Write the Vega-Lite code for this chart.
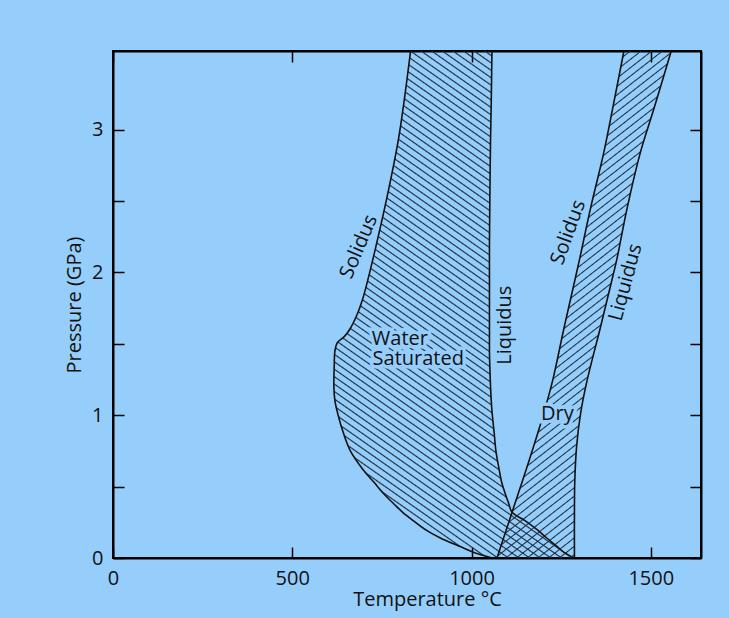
{
"$schema": "https://vega.github.io/schema/vega-lite/v6.json",
"width": 588, "height": 507,
"autosize": {"type": "none"},
"padding": {"left": 113, "top": 51, "right": 28, "bottom": 60},
"background": "#96cefb",
"config": {
 "view": {"stroke": "#000", "strokeWidth": 2},
 "font": "Open Sans",
 "axis": {"domainColor": "#000", "domainWidth": 2, "tickColor": "#000", "tickWidth": 1.5, "tickSize": -11, "labelPadding": 21, "labelFont": "Open Sans", "labelFontSize": 20, "labelColor": "#111", "titleFont": "Open Sans", "titleFontSize": 20, "titleFontWeight": "normal", "titleColor": "#111", "grid": false, "labelFlush": false, "zindex": 1}
},
"datasets": {
 "water": [
  {"P": 0, "solidus": 1058, "liquidus": 1287},
  {"P": 0.04, "solidus": 1005, "liquidus": 1258},
  {"P": 0.08, "solidus": 968, "liquidus": 1239},
  {"P": 0.14, "solidus": 913, "liquidus": 1210},
  {"P": 0.2, "solidus": 870, "liquidus": 1182},
  {"P": 0.26, "solidus": 838, "liquidus": 1150},
  {"P": 0.32, "solidus": 808, "liquidus": 1113},
  {"P": 0.38, "solidus": 783, "liquidus": 1104},
  {"P": 0.45, "solidus": 755, "liquidus": 1094},
  {"P": 0.53, "solidus": 728, "liquidus": 1084},
  {"P": 0.62, "solidus": 697, "liquidus": 1077},
  {"P": 0.75, "solidus": 662, "liquidus": 1068},
  {"P": 0.88, "solidus": 642, "liquidus": 1063},
  {"P": 1.0, "solidus": 628, "liquidus": 1058},
  {"P": 1.1, "solidus": 619, "liquidus": 1055},
  {"P": 1.2, "solidus": 616, "liquidus": 1053},
  {"P": 1.34, "solidus": 617, "liquidus": 1051},
  {"P": 1.45, "solidus": 619, "liquidus": 1050},
  {"P": 1.51, "solidus": 626, "liquidus": 1050},
  {"P": 1.55, "solidus": 645, "liquidus": 1050},
  {"P": 1.6, "solidus": 660, "liquidus": 1050},
  {"P": 1.7, "solidus": 680, "liquidus": 1050},
  {"P": 1.81, "solidus": 696, "liquidus": 1050},
  {"P": 2.0, "solidus": 716, "liquidus": 1050},
  {"P": 2.2, "solidus": 735, "liquidus": 1050},
  {"P": 2.5, "solidus": 762, "liquidus": 1051},
  {"P": 2.93, "solidus": 796, "liquidus": 1053},
  {"P": 3.2, "solidus": 812, "liquidus": 1055},
  {"P": 3.55, "solidus": 830, "liquidus": 1057}
 ],
 "dry": [
  {"P": 0, "solidus": 1071, "liquidus": 1287},
  {"P": 0.32, "solidus": 1113, "liquidus": 1287},
  {"P": 0.54, "solidus": 1142, "liquidus": 1288},
  {"P": 0.78, "solidus": 1173, "liquidus": 1293},
  {"P": 1.01, "solidus": 1201, "liquidus": 1304},
  {"P": 1.24, "solidus": 1226, "liquidus": 1322},
  {"P": 1.6, "solidus": 1257, "liquidus": 1358},
  {"P": 1.91, "solidus": 1285, "liquidus": 1388},
  {"P": 2.1, "solidus": 1302, "liquidus": 1406},
  {"P": 2.45, "solidus": 1332, "liquidus": 1434},
  {"P": 2.84, "solidus": 1369, "liquidus": 1471},
  {"P": 3.14, "solidus": 1393, "liquidus": 1508},
  {"P": 3.55, "solidus": 1425, "liquidus": 1557}
 ],
 "flatlabels": [
  {"label": "Water", "T": 722, "P": 1.534},
  {"label": "Saturated", "T": 724, "P": 1.39},
  {"label": "Dry", "T": 1194, "P": 1.008}
 ]
},
"layer": [
 {
  "data": {"name": "water"},
  "mark": {"type": "area", "orient": "horizontal", "clip": true, "opacity": 1, "interpolate": "catmull-rom",
   "fill": {"gradient": "linear", "x1": 1, "y1": 0, "x2": 0.6013, "y2": 1.1998, "stops": [
{"offset":0.003,"color":"rgba(27,42,58,0)"},{"offset":0.005,"color":"#1b2a3a"},{"offset":0.007,"color":"rgba(27,42,58,0)"},
{"offset":0.014,"color":"rgba(27,42,58,0)"},{"offset":0.016,"color":"#1b2a3a"},{"offset":0.018,"color":"rgba(27,42,58,0)"},
{"offset":0.025,"color":"rgba(27,42,58,0)"},{"offset":0.027,"color":"#1b2a3a"},{"offset":0.029,"color":"rgba(27,42,58,0)"},
{"offset":0.036,"color":"rgba(27,42,58,0)"},{"offset":0.038,"color":"#1b2a3a"},{"offset":0.040,"color":"rgba(27,42,58,0)"},
{"offset":0.047,"color":"rgba(27,42,58,0)"},{"offset":0.049,"color":"#1b2a3a"},{"offset":0.051,"color":"rgba(27,42,58,0)"},
{"offset":0.058,"color":"rgba(27,42,58,0)"},{"offset":0.060,"color":"#1b2a3a"},{"offset":0.062,"color":"rgba(27,42,58,0)"},
{"offset":0.069,"color":"rgba(27,42,58,0)"},{"offset":0.071,"color":"#1b2a3a"},{"offset":0.073,"color":"rgba(27,42,58,0)"},
{"offset":0.080,"color":"rgba(27,42,58,0)"},{"offset":0.082,"color":"#1b2a3a"},{"offset":0.084,"color":"rgba(27,42,58,0)"},
{"offset":0.091,"color":"rgba(27,42,58,0)"},{"offset":0.093,"color":"#1b2a3a"},{"offset":0.095,"color":"rgba(27,42,58,0)"},
{"offset":0.102,"color":"rgba(27,42,58,0)"},{"offset":0.104,"color":"#1b2a3a"},{"offset":0.106,"color":"rgba(27,42,58,0)"},
{"offset":0.113,"color":"rgba(27,42,58,0)"},{"offset":0.115,"color":"#1b2a3a"},{"offset":0.117,"color":"rgba(27,42,58,0)"},
{"offset":0.124,"color":"rgba(27,42,58,0)"},{"offset":0.126,"color":"#1b2a3a"},{"offset":0.128,"color":"rgba(27,42,58,0)"},
{"offset":0.135,"color":"rgba(27,42,58,0)"},{"offset":0.137,"color":"#1b2a3a"},{"offset":0.139,"color":"rgba(27,42,58,0)"},
{"offset":0.146,"color":"rgba(27,42,58,0)"},{"offset":0.148,"color":"#1b2a3a"},{"offset":0.150,"color":"rgba(27,42,58,0)"},
{"offset":0.157,"color":"rgba(27,42,58,0)"},{"offset":0.159,"color":"#1b2a3a"},{"offset":0.161,"color":"rgba(27,42,58,0)"},
{"offset":0.168,"color":"rgba(27,42,58,0)"},{"offset":0.170,"color":"#1b2a3a"},{"offset":0.172,"color":"rgba(27,42,58,0)"},
{"offset":0.179,"color":"rgba(27,42,58,0)"},{"offset":0.181,"color":"#1b2a3a"},{"offset":0.183,"color":"rgba(27,42,58,0)"},
{"offset":0.190,"color":"rgba(27,42,58,0)"},{"offset":0.192,"color":"#1b2a3a"},{"offset":0.194,"color":"rgba(27,42,58,0)"},
{"offset":0.201,"color":"rgba(27,42,58,0)"},{"offset":0.203,"color":"#1b2a3a"},{"offset":0.205,"color":"rgba(27,42,58,0)"},
{"offset":0.212,"color":"rgba(27,42,58,0)"},{"offset":0.214,"color":"#1b2a3a"},{"offset":0.216,"color":"rgba(27,42,58,0)"},
{"offset":0.223,"color":"rgba(27,42,58,0)"},{"offset":0.225,"color":"#1b2a3a"},{"offset":0.227,"color":"rgba(27,42,58,0)"},
{"offset":0.234,"color":"rgba(27,42,58,0)"},{"offset":0.236,"color":"#1b2a3a"},{"offset":0.238,"color":"rgba(27,42,58,0)"},
{"offset":0.245,"color":"rgba(27,42,58,0)"},{"offset":0.247,"color":"#1b2a3a"},{"offset":0.249,"color":"rgba(27,42,58,0)"},
{"offset":0.256,"color":"rgba(27,42,58,0)"},{"offset":0.258,"color":"#1b2a3a"},{"offset":0.260,"color":"rgba(27,42,58,0)"},
{"offset":0.267,"color":"rgba(27,42,58,0)"},{"offset":0.269,"color":"#1b2a3a"},{"offset":0.271,"color":"rgba(27,42,58,0)"},
{"offset":0.278,"color":"rgba(27,42,58,0)"},{"offset":0.280,"color":"#1b2a3a"},{"offset":0.282,"color":"rgba(27,42,58,0)"},
{"offset":0.289,"color":"rgba(27,42,58,0)"},{"offset":0.291,"color":"#1b2a3a"},{"offset":0.293,"color":"rgba(27,42,58,0)"},
{"offset":0.300,"color":"rgba(27,42,58,0)"},{"offset":0.302,"color":"#1b2a3a"},{"offset":0.304,"color":"rgba(27,42,58,0)"},
{"offset":0.311,"color":"rgba(27,42,58,0)"},{"offset":0.313,"color":"#1b2a3a"},{"offset":0.315,"color":"rgba(27,42,58,0)"},
{"offset":0.322,"color":"rgba(27,42,58,0)"},{"offset":0.324,"color":"#1b2a3a"},{"offset":0.326,"color":"rgba(27,42,58,0)"},
{"offset":0.333,"color":"rgba(27,42,58,0)"},{"offset":0.335,"color":"#1b2a3a"},{"offset":0.337,"color":"rgba(27,42,58,0)"},
{"offset":0.344,"color":"rgba(27,42,58,0)"},{"offset":0.346,"color":"#1b2a3a"},{"offset":0.348,"color":"rgba(27,42,58,0)"},
{"offset":0.355,"color":"rgba(27,42,58,0)"},{"offset":0.357,"color":"#1b2a3a"},{"offset":0.359,"color":"rgba(27,42,58,0)"},
{"offset":0.366,"color":"rgba(27,42,58,0)"},{"offset":0.368,"color":"#1b2a3a"},{"offset":0.370,"color":"rgba(27,42,58,0)"},
{"offset":0.377,"color":"rgba(27,42,58,0)"},{"offset":0.379,"color":"#1b2a3a"},{"offset":0.381,"color":"rgba(27,42,58,0)"},
{"offset":0.388,"color":"rgba(27,42,58,0)"},{"offset":0.390,"color":"#1b2a3a"},{"offset":0.392,"color":"rgba(27,42,58,0)"},
{"offset":0.399,"color":"rgba(27,42,58,0)"},{"offset":0.401,"color":"#1b2a3a"},{"offset":0.403,"color":"rgba(27,42,58,0)"},
{"offset":0.410,"color":"rgba(27,42,58,0)"},{"offset":0.412,"color":"#1b2a3a"},{"offset":0.414,"color":"rgba(27,42,58,0)"},
{"offset":0.421,"color":"rgba(27,42,58,0)"},{"offset":0.423,"color":"#1b2a3a"},{"offset":0.425,"color":"rgba(27,42,58,0)"},
{"offset":0.432,"color":"rgba(27,42,58,0)"},{"offset":0.434,"color":"#1b2a3a"},{"offset":0.436,"color":"rgba(27,42,58,0)"},
{"offset":0.443,"color":"rgba(27,42,58,0)"},{"offset":0.445,"color":"#1b2a3a"},{"offset":0.447,"color":"rgba(27,42,58,0)"},
{"offset":0.454,"color":"rgba(27,42,58,0)"},{"offset":0.456,"color":"#1b2a3a"},{"offset":0.458,"color":"rgba(27,42,58,0)"},
{"offset":0.465,"color":"rgba(27,42,58,0)"},{"offset":0.467,"color":"#1b2a3a"},{"offset":0.469,"color":"rgba(27,42,58,0)"},
{"offset":0.476,"color":"rgba(27,42,58,0)"},{"offset":0.478,"color":"#1b2a3a"},{"offset":0.480,"color":"rgba(27,42,58,0)"},
{"offset":0.487,"color":"rgba(27,42,58,0)"},{"offset":0.489,"color":"#1b2a3a"},{"offset":0.491,"color":"rgba(27,42,58,0)"},
{"offset":0.498,"color":"rgba(27,42,58,0)"},{"offset":0.500,"color":"#1b2a3a"},{"offset":0.502,"color":"rgba(27,42,58,0)"},
{"offset":0.509,"color":"rgba(27,42,58,0)"},{"offset":0.511,"color":"#1b2a3a"},{"offset":0.513,"color":"rgba(27,42,58,0)"},
{"offset":0.520,"color":"rgba(27,42,58,0)"},{"offset":0.522,"color":"#1b2a3a"},{"offset":0.524,"color":"rgba(27,42,58,0)"},
{"offset":0.531,"color":"rgba(27,42,58,0)"},{"offset":0.533,"color":"#1b2a3a"},{"offset":0.535,"color":"rgba(27,42,58,0)"},
{"offset":0.542,"color":"rgba(27,42,58,0)"},{"offset":0.544,"color":"#1b2a3a"},{"offset":0.546,"color":"rgba(27,42,58,0)"},
{"offset":0.553,"color":"rgba(27,42,58,0)"},{"offset":0.555,"color":"#1b2a3a"},{"offset":0.557,"color":"rgba(27,42,58,0)"},
{"offset":0.564,"color":"rgba(27,42,58,0)"},{"offset":0.566,"color":"#1b2a3a"},{"offset":0.568,"color":"rgba(27,42,58,0)"},
{"offset":0.575,"color":"rgba(27,42,58,0)"},{"offset":0.577,"color":"#1b2a3a"},{"offset":0.579,"color":"rgba(27,42,58,0)"},
{"offset":0.586,"color":"rgba(27,42,58,0)"},{"offset":0.588,"color":"#1b2a3a"},{"offset":0.590,"color":"rgba(27,42,58,0)"},
{"offset":0.597,"color":"rgba(27,42,58,0)"},{"offset":0.599,"color":"#1b2a3a"},{"offset":0.601,"color":"rgba(27,42,58,0)"},
{"offset":0.608,"color":"rgba(27,42,58,0)"},{"offset":0.610,"color":"#1b2a3a"},{"offset":0.612,"color":"rgba(27,42,58,0)"},
{"offset":0.619,"color":"rgba(27,42,58,0)"},{"offset":0.621,"color":"#1b2a3a"},{"offset":0.623,"color":"rgba(27,42,58,0)"},
{"offset":0.630,"color":"rgba(27,42,58,0)"},{"offset":0.632,"color":"#1b2a3a"},{"offset":0.634,"color":"rgba(27,42,58,0)"},
{"offset":0.641,"color":"rgba(27,42,58,0)"},{"offset":0.643,"color":"#1b2a3a"},{"offset":0.645,"color":"rgba(27,42,58,0)"},
{"offset":0.652,"color":"rgba(27,42,58,0)"},{"offset":0.654,"color":"#1b2a3a"},{"offset":0.656,"color":"rgba(27,42,58,0)"},
{"offset":0.663,"color":"rgba(27,42,58,0)"},{"offset":0.665,"color":"#1b2a3a"},{"offset":0.667,"color":"rgba(27,42,58,0)"},
{"offset":0.674,"color":"rgba(27,42,58,0)"},{"offset":0.676,"color":"#1b2a3a"},{"offset":0.678,"color":"rgba(27,42,58,0)"},
{"offset":0.685,"color":"rgba(27,42,58,0)"},{"offset":0.687,"color":"#1b2a3a"},{"offset":0.689,"color":"rgba(27,42,58,0)"},
{"offset":0.696,"color":"rgba(27,42,58,0)"},{"offset":0.698,"color":"#1b2a3a"},{"offset":0.700,"color":"rgba(27,42,58,0)"},
{"offset":0.707,"color":"rgba(27,42,58,0)"},{"offset":0.709,"color":"#1b2a3a"},{"offset":0.711,"color":"rgba(27,42,58,0)"},
{"offset":0.718,"color":"rgba(27,42,58,0)"},{"offset":0.720,"color":"#1b2a3a"},{"offset":0.722,"color":"rgba(27,42,58,0)"},
{"offset":0.729,"color":"rgba(27,42,58,0)"},{"offset":0.731,"color":"#1b2a3a"},{"offset":0.733,"color":"rgba(27,42,58,0)"},
{"offset":0.740,"color":"rgba(27,42,58,0)"},{"offset":0.742,"color":"#1b2a3a"},{"offset":0.744,"color":"rgba(27,42,58,0)"},
{"offset":0.751,"color":"rgba(27,42,58,0)"},{"offset":0.753,"color":"#1b2a3a"},{"offset":0.755,"color":"rgba(27,42,58,0)"},
{"offset":0.762,"color":"rgba(27,42,58,0)"},{"offset":0.764,"color":"#1b2a3a"},{"offset":0.766,"color":"rgba(27,42,58,0)"},
{"offset":0.773,"color":"rgba(27,42,58,0)"},{"offset":0.775,"color":"#1b2a3a"},{"offset":0.777,"color":"rgba(27,42,58,0)"},
{"offset":0.784,"color":"rgba(27,42,58,0)"},{"offset":0.786,"color":"#1b2a3a"},{"offset":0.788,"color":"rgba(27,42,58,0)"},
{"offset":0.795,"color":"rgba(27,42,58,0)"},{"offset":0.797,"color":"#1b2a3a"},{"offset":0.799,"color":"rgba(27,42,58,0)"},
{"offset":0.806,"color":"rgba(27,42,58,0)"},{"offset":0.808,"color":"#1b2a3a"},{"offset":0.810,"color":"rgba(27,42,58,0)"},
{"offset":0.817,"color":"rgba(27,42,58,0)"},{"offset":0.819,"color":"#1b2a3a"},{"offset":0.821,"color":"rgba(27,42,58,0)"},
{"offset":0.828,"color":"rgba(27,42,58,0)"},{"offset":0.830,"color":"#1b2a3a"},{"offset":0.832,"color":"rgba(27,42,58,0)"},
{"offset":0.839,"color":"rgba(27,42,58,0)"},{"offset":0.841,"color":"#1b2a3a"},{"offset":0.843,"color":"rgba(27,42,58,0)"},
{"offset":0.850,"color":"rgba(27,42,58,0)"},{"offset":0.852,"color":"#1b2a3a"},{"offset":0.854,"color":"rgba(27,42,58,0)"},
{"offset":0.861,"color":"rgba(27,42,58,0)"},{"offset":0.863,"color":"#1b2a3a"},{"offset":0.865,"color":"rgba(27,42,58,0)"},
{"offset":0.872,"color":"rgba(27,42,58,0)"},{"offset":0.874,"color":"#1b2a3a"},{"offset":0.876,"color":"rgba(27,42,58,0)"},
{"offset":0.883,"color":"rgba(27,42,58,0)"},{"offset":0.885,"color":"#1b2a3a"},{"offset":0.887,"color":"rgba(27,42,58,0)"},
{"offset":0.894,"color":"rgba(27,42,58,0)"},{"offset":0.896,"color":"#1b2a3a"},{"offset":0.898,"color":"rgba(27,42,58,0)"},
{"offset":0.905,"color":"rgba(27,42,58,0)"},{"offset":0.907,"color":"#1b2a3a"},{"offset":0.909,"color":"rgba(27,42,58,0)"},
{"offset":0.916,"color":"rgba(27,42,58,0)"},{"offset":0.918,"color":"#1b2a3a"},{"offset":0.920,"color":"rgba(27,42,58,0)"},
{"offset":0.927,"color":"rgba(27,42,58,0)"},{"offset":0.929,"color":"#1b2a3a"},{"offset":0.931,"color":"rgba(27,42,58,0)"},
{"offset":0.938,"color":"rgba(27,42,58,0)"},{"offset":0.940,"color":"#1b2a3a"},{"offset":0.942,"color":"rgba(27,42,58,0)"},
{"offset":0.949,"color":"rgba(27,42,58,0)"},{"offset":0.951,"color":"#1b2a3a"},{"offset":0.953,"color":"rgba(27,42,58,0)"},
{"offset":0.960,"color":"rgba(27,42,58,0)"},{"offset":0.962,"color":"#1b2a3a"},{"offset":0.964,"color":"rgba(27,42,58,0)"},
{"offset":0.971,"color":"rgba(27,42,58,0)"},{"offset":0.973,"color":"#1b2a3a"},{"offset":0.975,"color":"rgba(27,42,58,0)"},
{"offset":0.982,"color":"rgba(27,42,58,0)"},{"offset":0.984,"color":"#1b2a3a"},{"offset":0.986,"color":"rgba(27,42,58,0)"},
{"offset":0.993,"color":"rgba(27,42,58,0)"},{"offset":0.995,"color":"#1b2a3a"},{"offset":0.997,"color":"rgba(27,42,58,0)"}
   ]}},
  "encoding": {
   "y": {"field": "P", "type": "quantitative", "scale": {"domain": [0, 3.55], "nice": false, "zero": false},
    "axis": {"orient": "left", "values": [0, 0.5, 1, 1.5, 2, 2.5, 3], "labelExpr": "datum.value % 1 === 0 ? '' + datum.value : ''", "title": "Pressure (GPa)", "titlePadding": 7}},
   "x": {"field": "solidus", "type": "quantitative", "scale": {"domain": [0, 1640], "nice": false, "zero": false},
    "axis": {"orient": "bottom", "values": [0, 500, 1000, 1500], "format": "d", "title": "Temperature °C", "titlePadding": 1, "titleX": 314}},
   "x2": {"field": "liquidus"}
  }
 },
 {
  "data": {"name": "dry"},
  "mark": {"type": "area", "orient": "horizontal", "clip": true, "opacity": 1, "interpolate": "catmull-rom",
   "fill": {"gradient": "linear", "x1": 0, "y1": 0, "x2": 0.3176, "y2": 1.1832, "stops": [
{"offset":0.004,"color":"rgba(27,42,58,0)"},{"offset":0.006,"color":"#1b2a3a"},{"offset":0.008,"color":"rgba(27,42,58,0)"},
{"offset":0.017,"color":"rgba(27,42,58,0)"},{"offset":0.019,"color":"#1b2a3a"},{"offset":0.021,"color":"rgba(27,42,58,0)"},
{"offset":0.030,"color":"rgba(27,42,58,0)"},{"offset":0.032,"color":"#1b2a3a"},{"offset":0.034,"color":"rgba(27,42,58,0)"},
{"offset":0.043,"color":"rgba(27,42,58,0)"},{"offset":0.045,"color":"#1b2a3a"},{"offset":0.047,"color":"rgba(27,42,58,0)"},
{"offset":0.056,"color":"rgba(27,42,58,0)"},{"offset":0.058,"color":"#1b2a3a"},{"offset":0.060,"color":"rgba(27,42,58,0)"},
{"offset":0.069,"color":"rgba(27,42,58,0)"},{"offset":0.071,"color":"#1b2a3a"},{"offset":0.073,"color":"rgba(27,42,58,0)"},
{"offset":0.082,"color":"rgba(27,42,58,0)"},{"offset":0.084,"color":"#1b2a3a"},{"offset":0.086,"color":"rgba(27,42,58,0)"},
{"offset":0.095,"color":"rgba(27,42,58,0)"},{"offset":0.097,"color":"#1b2a3a"},{"offset":0.099,"color":"rgba(27,42,58,0)"},
{"offset":0.108,"color":"rgba(27,42,58,0)"},{"offset":0.110,"color":"#1b2a3a"},{"offset":0.112,"color":"rgba(27,42,58,0)"},
{"offset":0.121,"color":"rgba(27,42,58,0)"},{"offset":0.123,"color":"#1b2a3a"},{"offset":0.125,"color":"rgba(27,42,58,0)"},
{"offset":0.134,"color":"rgba(27,42,58,0)"},{"offset":0.136,"color":"#1b2a3a"},{"offset":0.138,"color":"rgba(27,42,58,0)"},
{"offset":0.147,"color":"rgba(27,42,58,0)"},{"offset":0.149,"color":"#1b2a3a"},{"offset":0.151,"color":"rgba(27,42,58,0)"},
{"offset":0.160,"color":"rgba(27,42,58,0)"},{"offset":0.162,"color":"#1b2a3a"},{"offset":0.164,"color":"rgba(27,42,58,0)"},
{"offset":0.173,"color":"rgba(27,42,58,0)"},{"offset":0.175,"color":"#1b2a3a"},{"offset":0.177,"color":"rgba(27,42,58,0)"},
{"offset":0.186,"color":"rgba(27,42,58,0)"},{"offset":0.188,"color":"#1b2a3a"},{"offset":0.190,"color":"rgba(27,42,58,0)"},
{"offset":0.199,"color":"rgba(27,42,58,0)"},{"offset":0.201,"color":"#1b2a3a"},{"offset":0.203,"color":"rgba(27,42,58,0)"},
{"offset":0.212,"color":"rgba(27,42,58,0)"},{"offset":0.214,"color":"#1b2a3a"},{"offset":0.216,"color":"rgba(27,42,58,0)"},
{"offset":0.225,"color":"rgba(27,42,58,0)"},{"offset":0.227,"color":"#1b2a3a"},{"offset":0.229,"color":"rgba(27,42,58,0)"},
{"offset":0.238,"color":"rgba(27,42,58,0)"},{"offset":0.240,"color":"#1b2a3a"},{"offset":0.242,"color":"rgba(27,42,58,0)"},
{"offset":0.251,"color":"rgba(27,42,58,0)"},{"offset":0.253,"color":"#1b2a3a"},{"offset":0.255,"color":"rgba(27,42,58,0)"},
{"offset":0.264,"color":"rgba(27,42,58,0)"},{"offset":0.266,"color":"#1b2a3a"},{"offset":0.268,"color":"rgba(27,42,58,0)"},
{"offset":0.277,"color":"rgba(27,42,58,0)"},{"offset":0.279,"color":"#1b2a3a"},{"offset":0.281,"color":"rgba(27,42,58,0)"},
{"offset":0.290,"color":"rgba(27,42,58,0)"},{"offset":0.292,"color":"#1b2a3a"},{"offset":0.294,"color":"rgba(27,42,58,0)"},
{"offset":0.303,"color":"rgba(27,42,58,0)"},{"offset":0.305,"color":"#1b2a3a"},{"offset":0.307,"color":"rgba(27,42,58,0)"},
{"offset":0.316,"color":"rgba(27,42,58,0)"},{"offset":0.318,"color":"#1b2a3a"},{"offset":0.320,"color":"rgba(27,42,58,0)"},
{"offset":0.329,"color":"rgba(27,42,58,0)"},{"offset":0.331,"color":"#1b2a3a"},{"offset":0.333,"color":"rgba(27,42,58,0)"},
{"offset":0.342,"color":"rgba(27,42,58,0)"},{"offset":0.344,"color":"#1b2a3a"},{"offset":0.346,"color":"rgba(27,42,58,0)"},
{"offset":0.355,"color":"rgba(27,42,58,0)"},{"offset":0.357,"color":"#1b2a3a"},{"offset":0.359,"color":"rgba(27,42,58,0)"},
{"offset":0.368,"color":"rgba(27,42,58,0)"},{"offset":0.370,"color":"#1b2a3a"},{"offset":0.372,"color":"rgba(27,42,58,0)"},
{"offset":0.381,"color":"rgba(27,42,58,0)"},{"offset":0.383,"color":"#1b2a3a"},{"offset":0.385,"color":"rgba(27,42,58,0)"},
{"offset":0.394,"color":"rgba(27,42,58,0)"},{"offset":0.396,"color":"#1b2a3a"},{"offset":0.398,"color":"rgba(27,42,58,0)"},
{"offset":0.407,"color":"rgba(27,42,58,0)"},{"offset":0.409,"color":"#1b2a3a"},{"offset":0.411,"color":"rgba(27,42,58,0)"},
{"offset":0.420,"color":"rgba(27,42,58,0)"},{"offset":0.422,"color":"#1b2a3a"},{"offset":0.424,"color":"rgba(27,42,58,0)"},
{"offset":0.433,"color":"rgba(27,42,58,0)"},{"offset":0.435,"color":"#1b2a3a"},{"offset":0.437,"color":"rgba(27,42,58,0)"},
{"offset":0.446,"color":"rgba(27,42,58,0)"},{"offset":0.448,"color":"#1b2a3a"},{"offset":0.450,"color":"rgba(27,42,58,0)"},
{"offset":0.459,"color":"rgba(27,42,58,0)"},{"offset":0.461,"color":"#1b2a3a"},{"offset":0.463,"color":"rgba(27,42,58,0)"},
{"offset":0.472,"color":"rgba(27,42,58,0)"},{"offset":0.474,"color":"#1b2a3a"},{"offset":0.476,"color":"rgba(27,42,58,0)"},
{"offset":0.485,"color":"rgba(27,42,58,0)"},{"offset":0.487,"color":"#1b2a3a"},{"offset":0.489,"color":"rgba(27,42,58,0)"},
{"offset":0.498,"color":"rgba(27,42,58,0)"},{"offset":0.500,"color":"#1b2a3a"},{"offset":0.502,"color":"rgba(27,42,58,0)"},
{"offset":0.511,"color":"rgba(27,42,58,0)"},{"offset":0.513,"color":"#1b2a3a"},{"offset":0.515,"color":"rgba(27,42,58,0)"},
{"offset":0.524,"color":"rgba(27,42,58,0)"},{"offset":0.526,"color":"#1b2a3a"},{"offset":0.528,"color":"rgba(27,42,58,0)"},
{"offset":0.537,"color":"rgba(27,42,58,0)"},{"offset":0.539,"color":"#1b2a3a"},{"offset":0.541,"color":"rgba(27,42,58,0)"},
{"offset":0.550,"color":"rgba(27,42,58,0)"},{"offset":0.552,"color":"#1b2a3a"},{"offset":0.554,"color":"rgba(27,42,58,0)"},
{"offset":0.563,"color":"rgba(27,42,58,0)"},{"offset":0.565,"color":"#1b2a3a"},{"offset":0.567,"color":"rgba(27,42,58,0)"},
{"offset":0.576,"color":"rgba(27,42,58,0)"},{"offset":0.578,"color":"#1b2a3a"},{"offset":0.580,"color":"rgba(27,42,58,0)"},
{"offset":0.589,"color":"rgba(27,42,58,0)"},{"offset":0.591,"color":"#1b2a3a"},{"offset":0.593,"color":"rgba(27,42,58,0)"},
{"offset":0.602,"color":"rgba(27,42,58,0)"},{"offset":0.604,"color":"#1b2a3a"},{"offset":0.606,"color":"rgba(27,42,58,0)"},
{"offset":0.615,"color":"rgba(27,42,58,0)"},{"offset":0.617,"color":"#1b2a3a"},{"offset":0.619,"color":"rgba(27,42,58,0)"},
{"offset":0.628,"color":"rgba(27,42,58,0)"},{"offset":0.630,"color":"#1b2a3a"},{"offset":0.632,"color":"rgba(27,42,58,0)"},
{"offset":0.641,"color":"rgba(27,42,58,0)"},{"offset":0.643,"color":"#1b2a3a"},{"offset":0.645,"color":"rgba(27,42,58,0)"},
{"offset":0.654,"color":"rgba(27,42,58,0)"},{"offset":0.656,"color":"#1b2a3a"},{"offset":0.658,"color":"rgba(27,42,58,0)"},
{"offset":0.667,"color":"rgba(27,42,58,0)"},{"offset":0.669,"color":"#1b2a3a"},{"offset":0.671,"color":"rgba(27,42,58,0)"},
{"offset":0.680,"color":"rgba(27,42,58,0)"},{"offset":0.682,"color":"#1b2a3a"},{"offset":0.684,"color":"rgba(27,42,58,0)"},
{"offset":0.693,"color":"rgba(27,42,58,0)"},{"offset":0.695,"color":"#1b2a3a"},{"offset":0.697,"color":"rgba(27,42,58,0)"},
{"offset":0.706,"color":"rgba(27,42,58,0)"},{"offset":0.708,"color":"#1b2a3a"},{"offset":0.710,"color":"rgba(27,42,58,0)"},
{"offset":0.719,"color":"rgba(27,42,58,0)"},{"offset":0.721,"color":"#1b2a3a"},{"offset":0.723,"color":"rgba(27,42,58,0)"},
{"offset":0.732,"color":"rgba(27,42,58,0)"},{"offset":0.734,"color":"#1b2a3a"},{"offset":0.736,"color":"rgba(27,42,58,0)"},
{"offset":0.745,"color":"rgba(27,42,58,0)"},{"offset":0.747,"color":"#1b2a3a"},{"offset":0.749,"color":"rgba(27,42,58,0)"},
{"offset":0.758,"color":"rgba(27,42,58,0)"},{"offset":0.760,"color":"#1b2a3a"},{"offset":0.762,"color":"rgba(27,42,58,0)"},
{"offset":0.771,"color":"rgba(27,42,58,0)"},{"offset":0.773,"color":"#1b2a3a"},{"offset":0.775,"color":"rgba(27,42,58,0)"},
{"offset":0.784,"color":"rgba(27,42,58,0)"},{"offset":0.786,"color":"#1b2a3a"},{"offset":0.788,"color":"rgba(27,42,58,0)"},
{"offset":0.797,"color":"rgba(27,42,58,0)"},{"offset":0.799,"color":"#1b2a3a"},{"offset":0.801,"color":"rgba(27,42,58,0)"},
{"offset":0.810,"color":"rgba(27,42,58,0)"},{"offset":0.812,"color":"#1b2a3a"},{"offset":0.814,"color":"rgba(27,42,58,0)"},
{"offset":0.823,"color":"rgba(27,42,58,0)"},{"offset":0.825,"color":"#1b2a3a"},{"offset":0.827,"color":"rgba(27,42,58,0)"},
{"offset":0.836,"color":"rgba(27,42,58,0)"},{"offset":0.838,"color":"#1b2a3a"},{"offset":0.840,"color":"rgba(27,42,58,0)"},
{"offset":0.849,"color":"rgba(27,42,58,0)"},{"offset":0.851,"color":"#1b2a3a"},{"offset":0.853,"color":"rgba(27,42,58,0)"},
{"offset":0.862,"color":"rgba(27,42,58,0)"},{"offset":0.864,"color":"#1b2a3a"},{"offset":0.866,"color":"rgba(27,42,58,0)"},
{"offset":0.875,"color":"rgba(27,42,58,0)"},{"offset":0.877,"color":"#1b2a3a"},{"offset":0.879,"color":"rgba(27,42,58,0)"},
{"offset":0.888,"color":"rgba(27,42,58,0)"},{"offset":0.890,"color":"#1b2a3a"},{"offset":0.892,"color":"rgba(27,42,58,0)"},
{"offset":0.901,"color":"rgba(27,42,58,0)"},{"offset":0.903,"color":"#1b2a3a"},{"offset":0.905,"color":"rgba(27,42,58,0)"},
{"offset":0.914,"color":"rgba(27,42,58,0)"},{"offset":0.916,"color":"#1b2a3a"},{"offset":0.918,"color":"rgba(27,42,58,0)"},
{"offset":0.927,"color":"rgba(27,42,58,0)"},{"offset":0.929,"color":"#1b2a3a"},{"offset":0.931,"color":"rgba(27,42,58,0)"},
{"offset":0.940,"color":"rgba(27,42,58,0)"},{"offset":0.942,"color":"#1b2a3a"},{"offset":0.944,"color":"rgba(27,42,58,0)"},
{"offset":0.953,"color":"rgba(27,42,58,0)"},{"offset":0.955,"color":"#1b2a3a"},{"offset":0.957,"color":"rgba(27,42,58,0)"},
{"offset":0.966,"color":"rgba(27,42,58,0)"},{"offset":0.968,"color":"#1b2a3a"},{"offset":0.970,"color":"rgba(27,42,58,0)"},
{"offset":0.979,"color":"rgba(27,42,58,0)"},{"offset":0.981,"color":"#1b2a3a"},{"offset":0.983,"color":"rgba(27,42,58,0)"},
{"offset":0.992,"color":"rgba(27,42,58,0)"},{"offset":0.994,"color":"#1b2a3a"},{"offset":0.996,"color":"rgba(27,42,58,0)"}
   ]}},
  "encoding": {
   "y": {"field": "P", "type": "quantitative", "scale": {"domain": [0, 3.55], "nice": false, "zero": false},
    "axis": {"orient": "right", "values": [0, 0.5, 1, 1.5, 2, 2.5, 3], "labels": false, "title": null}},
   "x": {"field": "solidus", "type": "quantitative", "scale": {"domain": [0, 1640], "nice": false, "zero": false},
    "axis": {"orient": "top", "values": [0, 500, 1000, 1500], "labels": false, "title": null}},
   "x2": {"field": "liquidus"}
  }
 },
 {
  "data": {"name": "water"},
  "transform": [{"fold": ["solidus", "liquidus"], "as": ["curve", "T"]}],
  "mark": {"type": "line", "clip": true, "color": "#111", "strokeWidth": 1.6, "interpolate": "catmull-rom"},
  "encoding": {
   "x": {"field": "T", "type": "quantitative", "scale": {"domain": [0, 1640], "nice": false, "zero": false}, "axis": null},
   "y": {"field": "P", "type": "quantitative", "scale": {"domain": [0, 3.55], "nice": false, "zero": false}, "axis": null},
   "detail": {"field": "curve"},
   "order": {"field": "P", "type": "quantitative"}
  }
 },
 {
  "data": {"name": "dry"},
  "transform": [{"fold": ["solidus", "liquidus"], "as": ["curve", "T"]}],
  "mark": {"type": "line", "clip": true, "color": "#111", "strokeWidth": 1.6, "interpolate": "catmull-rom"},
  "encoding": {
   "x": {"field": "T", "type": "quantitative", "scale": {"domain": [0, 1640], "nice": false, "zero": false}, "axis": null},
   "y": {"field": "P", "type": "quantitative", "scale": {"domain": [0, 3.55], "nice": false, "zero": false}, "axis": null},
   "detail": {"field": "curve"},
   "order": {"field": "P", "type": "quantitative"}
  }
 },
 {
  "data": {"name": "flatlabels"},
  "mark": {"type": "text", "align": "left", "baseline": "middle", "fontSize": 20, "font": "Open Sans", "stroke": "#96cefb", "strokeWidth": 7, "fill": "#96cefb"},
  "encoding": {
   "x": {"field": "T", "type": "quantitative", "scale": {"domain": [0, 1640], "nice": false, "zero": false}, "axis": null},
   "y": {"field": "P", "type": "quantitative", "scale": {"domain": [0, 3.55], "nice": false, "zero": false}, "axis": null},
   "text": {"field": "label"}
  }
 },
 {
  "data": {"name": "flatlabels"},
  "mark": {"type": "text", "align": "left", "baseline": "middle", "fontSize": 20, "font": "Open Sans", "color": "#111"},
  "encoding": {
   "x": {"field": "T", "type": "quantitative", "scale": {"domain": [0, 1640], "nice": false, "zero": false}, "axis": null},
   "y": {"field": "P", "type": "quantitative", "scale": {"domain": [0, 3.55], "nice": false, "zero": false}, "axis": null},
   "text": {"field": "label"}
  }
 },
 {
  "data": {"values": [{"label": "Solidus", "T": 686, "P": 2.18}]},
  "mark": {"type": "text", "align": "center", "baseline": "middle", "fontSize": 20, "font": "Open Sans", "color": "#111", "angle": -67},
  "encoding": {
   "x": {"field": "T", "type": "quantitative", "scale": {"domain": [0, 1640], "nice": false, "zero": false}, "axis": null},
   "y": {"field": "P", "type": "quantitative", "scale": {"domain": [0, 3.55], "nice": false, "zero": false}, "axis": null},
   "text": {"field": "label"}
  }
 },
 {
  "data": {"values": [{"label": "Liquidus", "T": 1093, "P": 1.63}]},
  "mark": {"type": "text", "align": "center", "baseline": "middle", "fontSize": 20, "font": "Open Sans", "color": "#111", "angle": -90},
  "encoding": {
   "x": {"field": "T", "type": "quantitative", "scale": {"domain": [0, 1640], "nice": false, "zero": false}, "axis": null},
   "y": {"field": "P", "type": "quantitative", "scale": {"domain": [0, 3.55], "nice": false, "zero": false}, "axis": null},
   "text": {"field": "label"}
  }
 },
 {
  "data": {"values": [{"label": "Solidus", "T": 1270, "P": 2.28}]},
  "mark": {"type": "text", "align": "center", "baseline": "middle", "fontSize": 20, "font": "Open Sans", "color": "#111", "angle": -70},
  "encoding": {
   "x": {"field": "T", "type": "quantitative", "scale": {"domain": [0, 1640], "nice": false, "zero": false}, "axis": null},
   "y": {"field": "P", "type": "quantitative", "scale": {"domain": [0, 3.55], "nice": false, "zero": false}, "axis": null},
   "text": {"field": "label"}
  }
 },
 {
  "data": {"values": [{"label": "Liquidus", "T": 1430, "P": 1.93}]},
  "mark": {"type": "text", "align": "center", "baseline": "middle", "fontSize": 20, "font": "Open Sans", "color": "#111", "angle": -75},
  "encoding": {
   "x": {"field": "T", "type": "quantitative", "scale": {"domain": [0, 1640], "nice": false, "zero": false}, "axis": null},
   "y": {"field": "P", "type": "quantitative", "scale": {"domain": [0, 3.55], "nice": false, "zero": false}, "axis": null},
   "text": {"field": "label"}
  }
 }
],
"resolve": {"axis": {"x": "independent", "y": "independent"}}
}
